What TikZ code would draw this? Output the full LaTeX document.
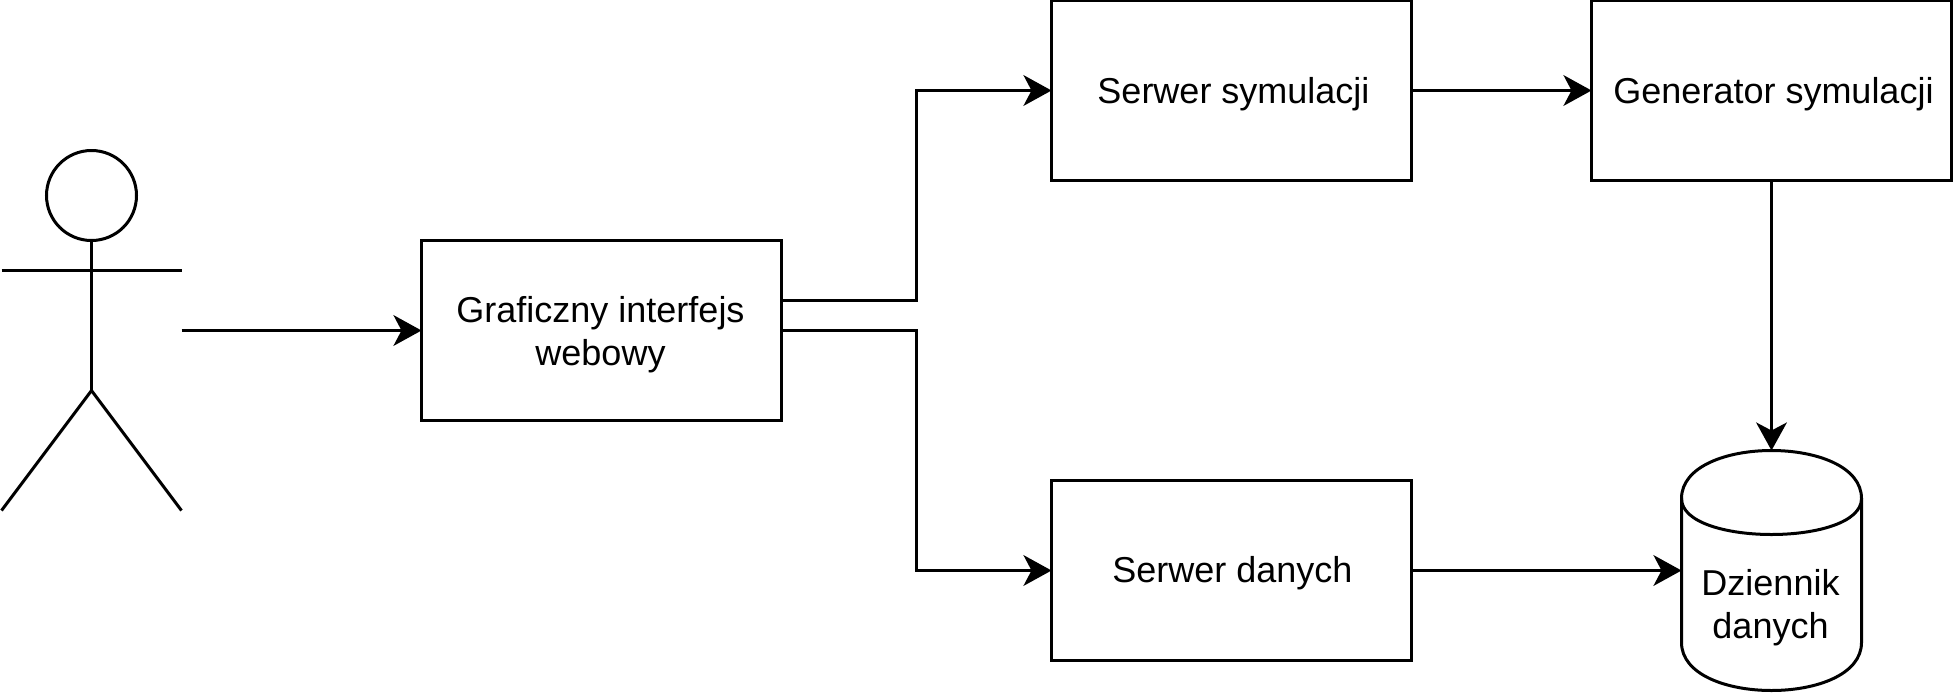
\documentclass[tikz,border=0pt]{standalone}
\usepackage{fontspec}
\setmainfont{Liberation Sans}
\usetikzlibrary{arrows.meta}
\tikzset{
    boxnode/.style={draw,line width=2.25pt,minimum width=270pt,minimum height=135pt,inner sep=0pt,outer sep=0pt},
    labelnode/.style={inner sep=0pt,outer sep=0pt,align=center,font=\fontsize{27}{32.25}\selectfont},
    storenode/.style={minimum width=135pt,minimum height=180pt,inner sep=0pt,outer sep=0pt},
    headnode/.style={circle,draw,line width=2.25pt,minimum size=67.5pt,inner sep=0pt,outer sep=0pt},
    wire/.style={line width=2.25pt},
    arrowwire/.style={wire,-{Stealth[length=21pt,width=23pt,inset=6pt]}}
}
\begin{document}
\begin{tikzpicture}[line join=miter,x=0.75pt,y=-0.75pt]
        \useasboundingbox (0,1) rectangle (1953,694);
        % actor
        \node[headnode] (head) at (91.5,196.5) {};
        \coordinate (hip) at (91.5,391.5);
        \coordinate (handleft) at (1.5,271.5);
        \coordinate (handright) at (181.5,271.5);
        \coordinate (footleft) at (1.5,511.5);
        \coordinate (footright) at (181.5,511.5);
        \coordinate (actorout) at (181.5,331.5);
        \draw [wire] (head.south)-- (hip);
        \draw [wire] (handleft)-- (handright);
        \draw [wire] (footleft)-- (hip)-- (footright);
        % boxes
        \node[boxnode] (gui) at (601.5,331.5) {};
        \node[boxnode] (simserver) at (1231.5,91.5) {};
        \node[boxnode] (generator) at (1771.5,91.5) {};
        \node[boxnode] (dataserver) at (1231.5,571.5) {};
        \node[labelnode] (guitext) at (600.5,335.5) {Graficzny interfejs\\webowy};
        \node[labelnode] (simtext) at (1233.5,95) {Serwer symulacji};
        \node[labelnode] (gentext) at (1773.5,95) {Generator symulacji};
        \node[labelnode] (datatext) at (1232.5,574.5) {Serwer danych};
        % data log
        \node[storenode] (store) at (1771.5,571.5) {};
        \draw [wire] (1681.5,499.5) .. controls (1681.5,435.5) and (1861.5,435.5) .. (1861.5,499.5)-- (1861.5,643.5) .. controls (1861.5,707.5) and (1681.5,707.5) .. (1681.5,643.5)-- cycle;
        \draw [wire] (1681.5,499.5) .. controls (1681.5,547.5) and (1861.5,547.5) .. (1861.5,499.5);
        \node[labelnode] (storetext) at (1770.5,608.5) {Dziennik\\danych};
        % connectors
        \coordinate (guiup) at (781.5,301.5);
        \draw [arrowwire] (actorout)-- (gui.west);
        \draw [arrowwire] (guiup)-- (916.5,301.5)-- (916.5,91.5)-- (simserver.west);
        \draw [arrowwire] (gui.east)-- (916.5,331.5)-- (916.5,571.5)-- (dataserver.west);
        \draw [arrowwire] (simserver.east)-- (generator.west);
        \draw [arrowwire] (generator.south)-- (store.north);
        \draw [arrowwire] (dataserver.east)-- (store.west);
    \end{tikzpicture}
\end{document}
